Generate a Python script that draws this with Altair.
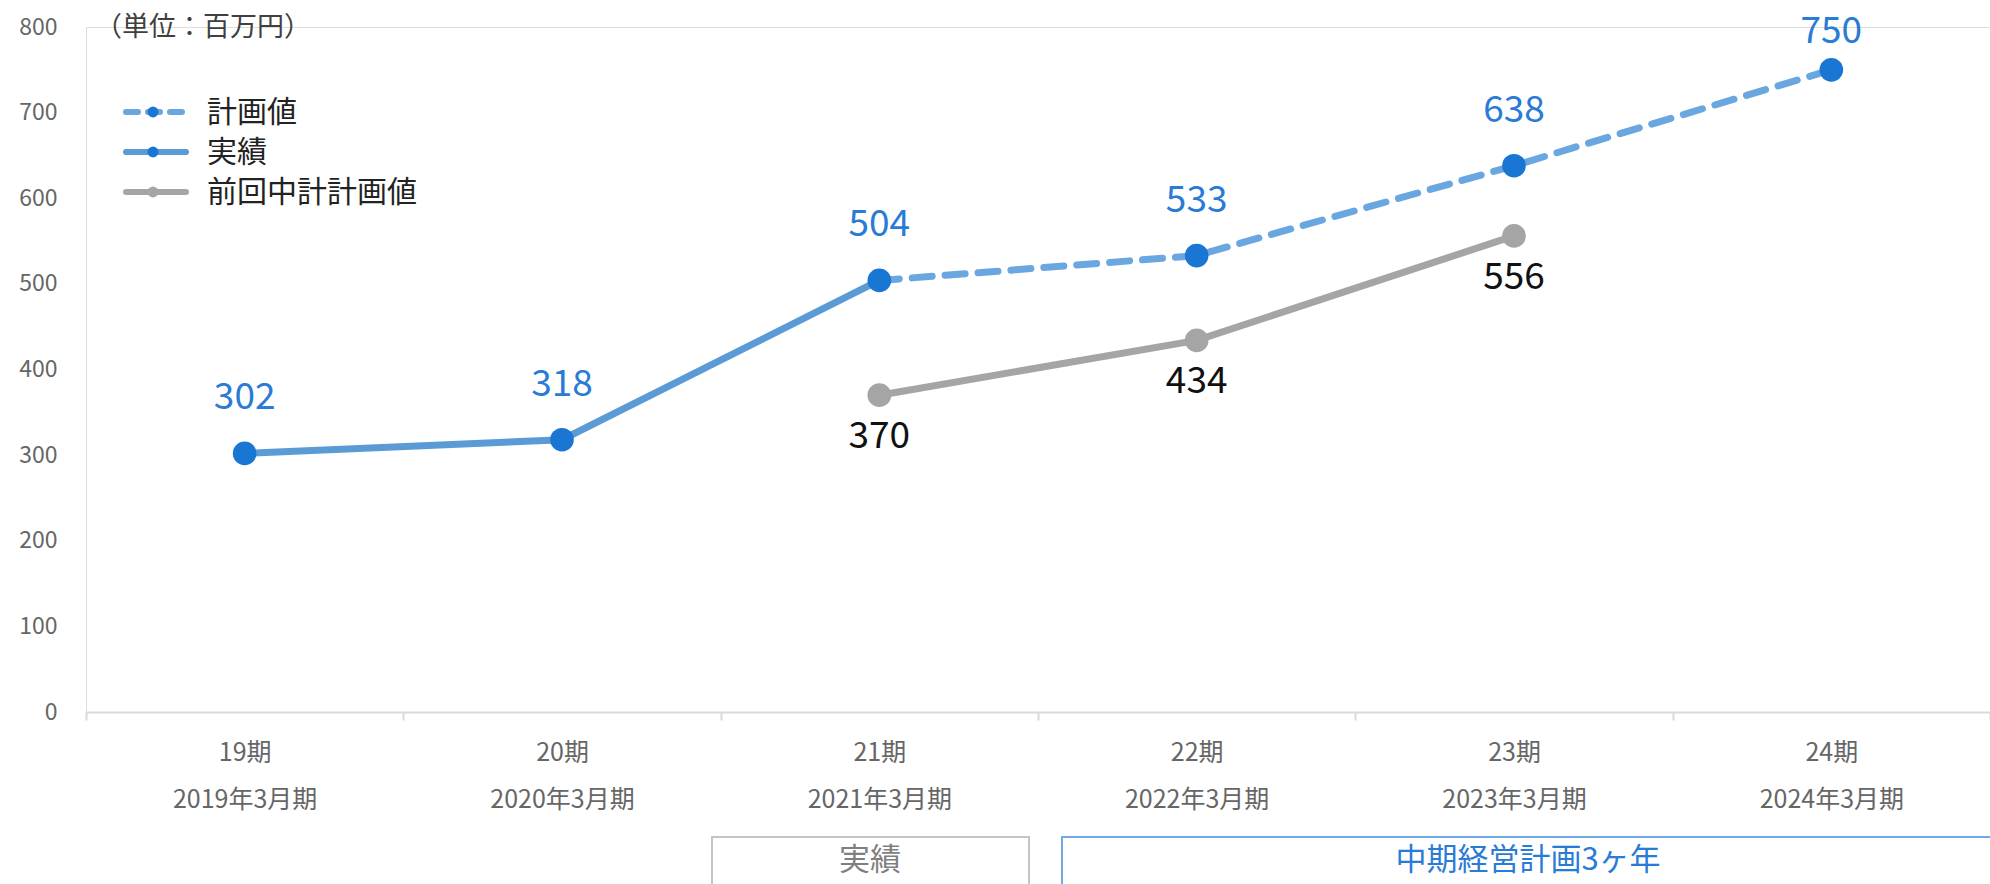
import altair as alt
import pandas as pd

periods = ["19期", "20期", "21期", "22期", "23期", "24期"]
fiscal = ["2019年3月期", "2020年3月期", "2021年3月期", "2022年3月期", "2023年3月期", "2024年3月期"]
actual = [302, 318, 504, None, None, None]
plan = [None, None, 504, 533, 638, 750]
prev_plan = [None, None, 370, 434, 556, None]
blue_labels = [302, 318, 504, 533, 638, 750]

legend_names = ["計画値", "実績", "前回中計計画値"]
unit_title = "（単位：百万円）"
box_texts = ["実績", "中期経営計画3ヶ年"]

FONT = "Noto Sans CJK JP"
BLUE_LINE = "#5B9BD5"
BLUE_DASH = "#6AA6E0"
BLUE_PT = "#1A76D3"
BLUE_TXT = "#2A7BD6"
GRAY = "#A5A5A5"

cats = [f"{p}|{f}" for p, f in zip(periods, fiscal)]
rows = []
for c, p, a, pl, pv, bl in zip(cats, periods, actual, plan, prev_plan, blue_labels):
    rows.append({"cat": c, "period": p, "actual": a, "plan": pl, "prev": pv, "blue": bl})
df = pd.DataFrame(rows)

xenc = alt.X("cat:N", sort=cats, title=None,
             scale=alt.Scale(type="band", paddingInner=0, paddingOuter=0),
             axis=alt.Axis(labelExpr="split(datum.label, '|')", labelAngle=0,
                           labelFontSize=25, labelColor="#666666", labelFont=FONT,
                           labelLineHeight=47, labelPadding=20,
                           domainColor="#D9D9D9", domainWidth=2,
                           tickColor="#D9D9D9", tickWidth=2, tickSize=8,
                           tickBand="extent", grid=False))
yscale = alt.Scale(domain=[0, 800], nice=False)
yaxis = alt.Axis(values=list(range(0, 801, 100)), grid=False, domain=False, ticks=False,
                 labelFontSize=23, labelColor="#666666", labelFont=FONT, labelPadding=29,
                 title=None)

base = alt.Chart(df).encode(x=xenc)

line_plan = base.mark_line(color=BLUE_DASH, strokeWidth=7, strokeDash=[20, 13],
                           strokeCap="round").encode(
    y=alt.Y("plan:Q", scale=yscale, axis=yaxis)).transform_filter("datum.plan != null")
line_actual = base.mark_line(color=BLUE_LINE, strokeWidth=7, strokeCap="round").encode(
    y=alt.Y("actual:Q", scale=yscale)).transform_filter("datum.actual != null")
line_prev = base.mark_line(color=GRAY, strokeWidth=7, strokeCap="round").encode(
    y=alt.Y("prev:Q", scale=yscale)).transform_filter("datum.prev != null")

pts_blue = base.mark_point(filled=True, color=BLUE_PT, size=560, opacity=1).encode(
    y=alt.Y("blue:Q", scale=yscale))
pts_prev = base.mark_point(filled=True, color=GRAY, size=560, opacity=1).encode(
    y=alt.Y("prev:Q", scale=yscale)).transform_filter("datum.prev != null")

lbl_blue = base.mark_text(font=FONT, fontSize=37, color=BLUE_TXT, dy=-55).encode(
    y=alt.Y("blue:Q", scale=yscale), text="blue:Q").transform_filter("datum.period != '24期'")
lbl_blue_last = base.mark_text(font=FONT, fontSize=37, color=BLUE_TXT, dy=-38).encode(
    y=alt.Y("blue:Q", scale=yscale), text="blue:Q").transform_filter("datum.period == '24期'")
lbl_prev = base.mark_text(font=FONT, fontSize=37, color="#111111", dy=42).encode(
    y=alt.Y("prev:Q", scale=yscale), text="prev:Q").transform_filter("datum.prev != null")

# title (unit)
title_df = pd.DataFrame({"t": [unit_title]})
unit = alt.Chart(title_df).mark_text(font=FONT, fontSize=27, color="#404040", align="left",
                                     baseline="middle").encode(
    x=alt.value(9), y=alt.value(1), text="t:N")

# manual legend
legend_layers = []
leg_y = [85, 125, 165]
leg_colors = [BLUE_DASH, BLUE_LINE, GRAY]
leg_pt_colors = [BLUE_PT, BLUE_PT, GRAY]
for i, name in enumerate(legend_names):
    d = pd.DataFrame({"name": [name]})
    kw = dict(color=leg_colors[i], strokeWidth=6, strokeCap="round")
    if i == 0:
        kw["strokeDash"] = [12, 10]
    r = alt.Chart(d).mark_rule(**kw).encode(
        x=alt.value(40), x2=alt.value(100), y=alt.value(leg_y[i]))
    p = alt.Chart(d).mark_point(filled=True, color=leg_pt_colors[i], size=120, opacity=1).encode(
        x=alt.value(67), y=alt.value(leg_y[i]))
    t = alt.Chart(d).mark_text(font=FONT, fontSize=30, color="#222222", align="left",
                               baseline="middle").encode(
        x=alt.value(121), y=alt.value(leg_y[i] + 1), text="name:N")
    legend_layers += [r, p, t]

# bottom boxes
b1 = alt.Chart(pd.DataFrame({"t": [box_texts[0]]}))
box1 = b1.mark_rect(fillOpacity=0, stroke="#C4C4C4", strokeWidth=2).encode(
    x=alt.value(626), x2=alt.value(943), y=alt.value(810), y2=alt.value(900))
box1t = b1.mark_text(font=FONT, fontSize=31, color="#7F7F7F", baseline="middle").encode(
    x=alt.value(784), y=alt.value(834), text="t:N")
b2 = alt.Chart(pd.DataFrame({"t": [box_texts[1]]}))
box2 = b2.mark_rect(fillOpacity=0, stroke="#6FA8E2", strokeWidth=2).encode(
    x=alt.value(976), x2=alt.value(1920), y=alt.value(810), y2=alt.value(900))
box2t = b2.mark_text(font=FONT, fontSize=31, color=BLUE_TXT, baseline="middle").encode(
    x=alt.value(1442), y=alt.value(834), text="t:N")

chart = alt.layer(
    line_plan, line_actual, line_prev, pts_blue, pts_prev,
    lbl_blue, lbl_blue_last, lbl_prev, unit, *legend_layers,
    box1, box1t, box2, box2t
).properties(
    width=1904, height=685,
    autosize=alt.AutoSizeParams(type="none"),
    padding={"left": 86, "top": 27, "right": 0, "bottom": 172},
).configure_view(stroke=None).configure(background="white")

chart.save("out.html", embed_options={"renderer": "svg", "actions": False})
